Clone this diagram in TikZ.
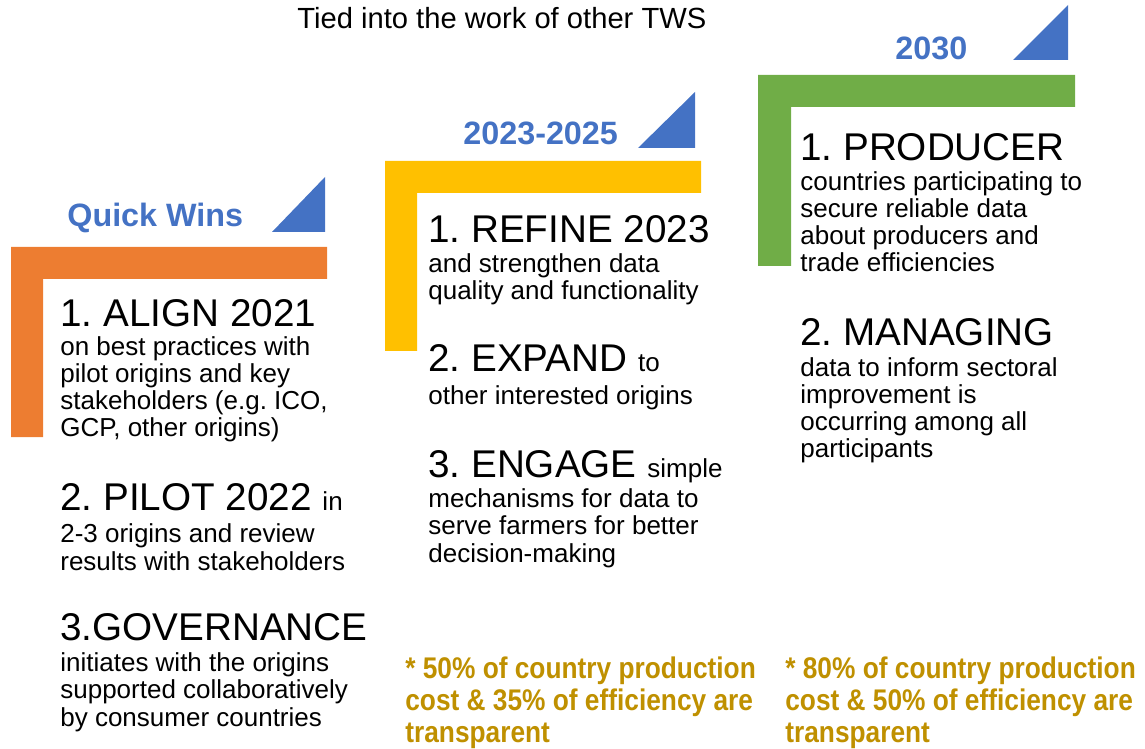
\documentclass[tikz,border=0pt]{standalone}
\usepackage{fontspec}
\setmainfont{Liberation Sans}
\newfontfamily\notefont[FakeStretch=0.88]{Liberation Sans}
\usepackage{xcolor}
\definecolor{phaseblue}{HTML}{4472C4}
\definecolor{winorange}{HTML}{ED7D31}
\definecolor{midyellow}{HTML}{FFC000}
\definecolor{endgreen}{HTML}{70AD47}
\definecolor{notegold}{HTML}{BF9000}
\newcommand{\tailtxt}[1]{{\fontsize{14.8}{15.5}\selectfont #1}}
\frenchspacing

\begin{document}
\begin{tikzpicture}[
            x = 0.02cm, y = -0.02cm, % pixel grid, y going down
            head/.style = {anchor=base west, inner sep=0pt, font=\fontsize{22}{24}\selectfont},
            body/.style = {anchor=base west, inner sep=0pt, align=left, font=\fontsize{14.8}{15.5}\selectfont}, % base = last line
            phase/.style = {anchor=base west, inner sep=0pt, text=phaseblue, font=\bfseries\fontsize{18.4}{20}\selectfont},
            note/.style = {anchor=base west, inner sep=0pt, align=left, text=notegold, font=\notefont\bfseries\fontsize{17}{18}\selectfont},
            ramp/.style = {fill=phaseblue}
        ]
\useasboundingbox (0,0) rectangle (1145,749);

% the three steps
\fill[winorange] (11,247) -- (327,247) -- (327,279) -- (43,279) -- (43,437) -- (11,437) -- cycle;
\fill[midyellow] (385,161) -- (701,161) -- (701,193) -- (417,193) -- (417,351) -- (385,351) -- cycle;
\fill[endgreen] (758,75) -- (1075,75) -- (1075,107) -- (791,107) -- (791,266) -- (758,266) -- cycle;

\fill[ramp] (272,232) -- (325,232) -- (325,177) -- cycle;
\fill[ramp] (638,148) -- (695,148) -- (695,92) -- cycle;
\fill[ramp] (1013,60) -- (1068,60) -- (1068,5) -- cycle;

\node[anchor=base west, inner sep=0pt, font=\fontsize{16.6}{18}\selectfont] (title) at (297,29) {Tied into the work of other TWS};

\node[phase] (quick) at (67,227) {Quick Wins};
\node[phase] (mid) at (463,145) {2023-2025};
\node[phase] (end) at (895,60) {2030};

% quick wins
\node[head] (align) at (60,327) {1. ALIGN 2021};
\node[body] (alignt) at (60,437) {on best practices with\\pilot origins and key\\stakeholders (e.g. ICO,\\GCP, other origins)};
\node[head] (pilot) at (60,510) {2. PILOT 2022 \tailtxt{in}};
\node[body] (pilott) at (60,570) {2-3 origins and review\\results with stakeholders};
\node[head] (gov) at (60,640) {3.GOVERNANCE};
\node[body] (govt) at (60,726) {initiates with the origins\\supported collaboratively\\by consumer countries};

% 2023-2025
\node[head] (refine) at (428,243) {1. REFINE 2023};
\node[body] (refinet) at (428,300) {and strengthen data\\quality and functionality};
\node[head] (expand) at (428,372) {2. EXPAND \tailtxt{to}};
\node[body] (expandt) at (428,404) {other interested origins};
\node[head] (engage) at (428,477) {3. ENGAGE \tailtxt{simple}};
\node[body] (engaget) at (428,562) {mechanisms for data to\\serve farmers for better\\decision-making};

% 2030
\node[head] (prod) at (800,161) {1. PRODUCER};
\node[body] (prodt) at (800,272) {countries participating to\\secure reliable data\\about producers and\\trade efficiencies};
\node[head] (manage) at (800,346) {2. MANAGING};
\node[body] (managet) at (800,458) {data to inform sectoral\\improvement is\\occurring among all\\participants};

\node[note] (midnote) at (405,742) {* 50\% of country production\\cost \& 35\% of efficiency are\\transparent};
\node[note] (endnote) at (785,742) {* 80\% of country production\\cost \& 50\% of efficiency are\\transparent};
\end{tikzpicture}
\end{document}
